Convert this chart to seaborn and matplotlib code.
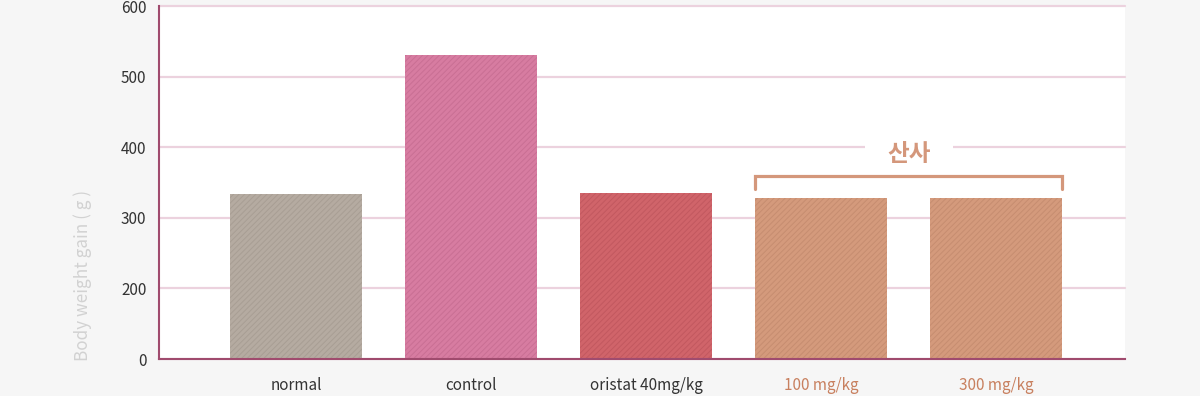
import pandas as pd
import matplotlib
matplotlib.use("Agg")
import matplotlib.pyplot as plt
import seaborn as sns

# dados
grupos = ["normal", "control", "oristat 40mg/kg", "100 mg/kg", "300 mg/kg"]
ganho_peso = [334, 531, 335, 328, 328]
cores = ["#b5aba1", "#d77ca1", "#d0646a", "#d49a7c", "#d49a7c"]
cores_hatch = ["#a89e94", "#c96f94", "#c2585f", "#c68d70", "#c68d70"]
cores_rotulo = ["#333333", "#333333", "#333333", "#c8805f", "#c8805f"]
ticks_y = [100, 200, 300, 400, 500, 600]
rotulos_y = ["0", "200", "300", "400", "500", "600"]
grupo_destaque = "산사"

sns.set_theme(style="white")
plt.rcParams["font.family"] = ["Noto Sans CJK KR", "DejaVu Sans"]
plt.rcParams["hatch.linewidth"] = 0.7

cor_eixo = "#a04b6e"
cor_grade = "#ecd2de"
cor_sansa = "#d4977b"

base = pd.DataFrame({"grupo": grupos, "ganho": ganho_peso})

fig = plt.figure(figsize=(12, 3.96), dpi=100, facecolor="#f6f6f6")
ax = fig.add_axes([159 / 1200, 1 - 359 / 396, 966 / 1200, 353 / 396])
ax.set_facecolor("white")

sns.barplot(data=base, x="grupo", y="ganho", hue="grupo", palette=cores,
            legend=False, width=0.753, saturation=1, ax=ax, zorder=3)

for barra, ch in zip(ax.patches, cores_hatch):
    barra.set_hatch("//////")
    barra.set_edgecolor(ch)
    barra.set_linewidth(0)

ax.set_ylim(100, 600)
ax.set_xlim(-0.785, 4.735)
ax.set_yticks(ticks_y)
ax.set_yticklabels(rotulos_y, fontsize=11, color="#333333")
ax.tick_params(axis="y", direction="in", length=6.5, width=1.5, color=cor_eixo, pad=9)
ax.tick_params(axis="x", length=0, pad=13)
for lbl, c in zip(ax.get_xticklabels(), cores_rotulo):
    lbl.set_color(c)
    lbl.set_fontsize(11)

ax.set_xlabel("")
ax.set_ylabel("")
ax.grid(axis="y", color=cor_grade, linewidth=1.6, zorder=0)
ax.set_axisbelow(True)
for g in ax.get_ygridlines():
    g.set_clip_on(False)

for lado in ["top", "right"]:
    ax.spines[lado].set_visible(False)
for lado in ["left", "bottom"]:
    ax.spines[lado].set_color(cor_eixo)
    ax.spines[lado].set_linewidth(1.5)
    ax.spines[lado].set_zorder(5)

# colchete do grupo 산사
esq = 3 - 0.753 / 2
dir_ = 4 + 0.753 / 2
ax.plot([esq, esq, dir_, dir_], [341, 359, 359, 341], color=cor_sansa,
        linewidth=2.3, solid_joinstyle="miter", zorder=4.5)
ax.text(3.5, 390, grupo_destaque, ha="center", va="center", fontsize=17,
        fontweight="bold", color=cor_sansa, zorder=4,
        bbox=dict(facecolor="white", edgecolor="none", boxstyle="square,pad=0.95"))

fig.text(83 / 1200, 1 - 361 / 396, "Body weight gain ( g )", rotation=90,
         ha="center", va="bottom", fontsize=12.3, color="#d2d2d2")

fig.savefig("out.png", dpi=100, facecolor=fig.get_facecolor())
